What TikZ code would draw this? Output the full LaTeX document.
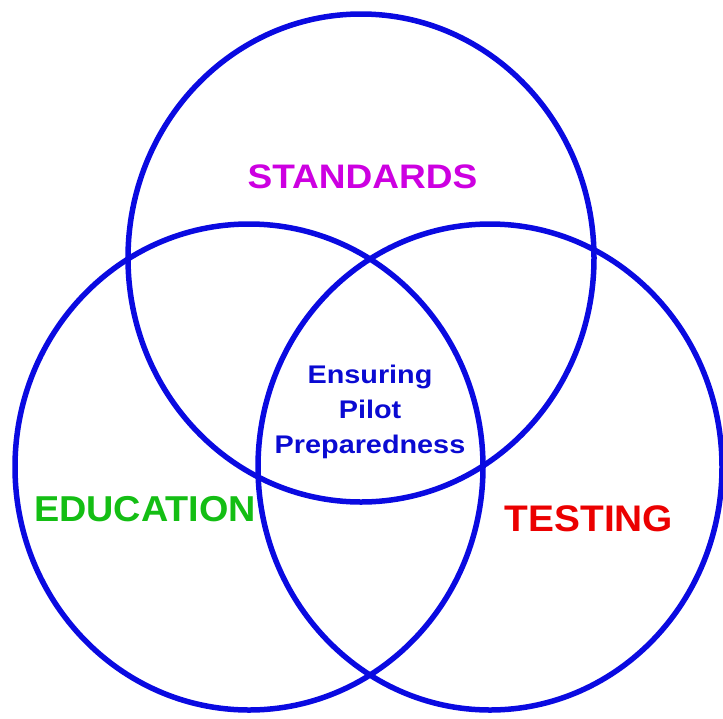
\documentclass[tikz,border=0pt]{standalone}
\usepackage{fontspec}
\setmainfont{Liberation Sans}
\definecolor{ringblue}{RGB}{10,10,225}
\definecolor{textblue}{RGB}{10,10,210}
\definecolor{stdmag}{RGB}{205,0,225}
\definecolor{edugreen}{RGB}{20,190,20}
\definecolor{testred}{RGB}{235,0,0}
\tikzset{
  ring/.style={draw=ringblue, line width=5.5pt},
  setlabel/.style={inner sep=0pt, anchor=base, font=\bfseries},
}
\begin{document}
\begin{tikzpicture}[x=1pt,y=-1pt]
\useasboundingbox (0,0) rectangle (723,718);
\draw[ring] (361,258) ellipse [x radius=233pt, y radius=244pt];
\draw[ring] (249,467) ellipse [x radius=234pt, y radius=243pt];
\draw[ring] (490,467) ellipse [x radius=232pt, y radius=243pt];
\node[setlabel, text=stdmag] (standards) at (362.5,188)
  {\fontsize{34pt}{40pt}\selectfont\scalebox{1.09}[1]{STANDARDS}};
\node[setlabel, text=edugreen] (education) at (145,521)
  {\fontsize{36pt}{40pt}\selectfont\scalebox{1.05}[1]{EDUCATION}};
\node[setlabel, text=testred] (testing) at (589,531)
  {\fontsize{37pt}{40pt}\selectfont\scalebox{1.05}[1]{TESTING}};
\node[inner sep=0pt, align=center, text=textblue, font=\bfseries\fontsize{25.5pt}{35pt}\selectfont] (center) at (370,412)
  {\scalebox{1.13}[1]{Ensuring}\\\scalebox{1.13}[1]{Pilot}\\\scalebox{1.13}[1]{Preparedness}};
\end{tikzpicture}
\end{document}
